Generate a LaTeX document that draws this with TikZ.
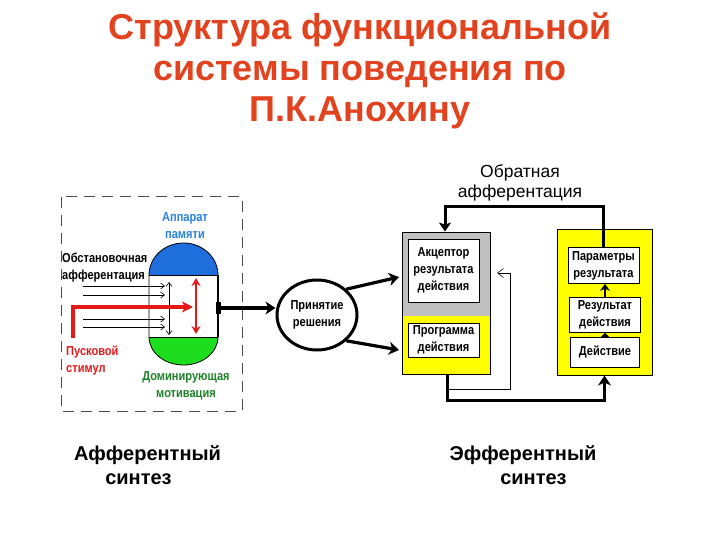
\documentclass[tikz,border=0pt]{standalone}
\usepackage{fontspec}
\setmainfont{Liberation Sans}
\newfontfamily\nar{Liberation Sans}[FakeStretch=0.85]
\usetikzlibrary{arrows.meta,shapes.geometric,calc}
\definecolor{titlered}{RGB}{226,66,30}
\definecolor{capblue}{RGB}{30,110,220}
\definecolor{labblue}{RGB}{40,130,220}
\definecolor{capgreen}{RGB}{30,220,30}
\definecolor{labgreen}{RGB}{30,130,40}
\definecolor{stimred}{RGB}{230,25,25}
\definecolor{blockgray}{RGB}{192,192,192}
\definecolor{blockyellow}{RGB}{255,255,0}
\begin{document}
\begin{tikzpicture}[x=1pt,y=-1pt,
  title/.style={anchor=base,text=titlered,font=\bfseries\fontsize{36}{40}\selectfont,inner sep=0pt},
  lab/.style={font=\nar\bfseries\fontsize{13}{17}\selectfont,align=center,inner sep=0pt},
  box/.style={draw,fill=white,line width=0.8pt,lab,minimum width=71pt},
  tarr/.style={line width=3.2pt,-{Stealth[length=10pt,width=13pt,inset=3pt]}},
  sarr/.style={line width=0.6pt,-{Straight Barb[length=4pt,width=6pt]}},
  big/.style={font=\bfseries\fontsize{20}{24}\selectfont,inner sep=0pt},
]
\useasboundingbox (0,0) rectangle (720,540);

% title
\node[title] (t1) at (360,40) {Структура функциональной};
\node[title] (t2) at (360,81) {системы поведения по};
\node[title] (t3) at (360,122) {П.К.Анохину};

% afferent synthesis frame
\draw[gray!60!black,line width=1pt,dash pattern=on 11pt off 7pt] (61,197) rectangle (242,411);

% capsule
\fill[capblue] (149,275) arc[start angle=180,end angle=0,x radius=34.5pt,y radius=32pt] -- cycle;
\fill[capgreen] (149,337) arc[start angle=180,end angle=360,x radius=34.5pt,y radius=28pt] -- cycle;
\draw[line width=0.8pt] (149,275) arc[start angle=180,end angle=0,x radius=34.5pt,y radius=32pt]
  -- (218,337) arc[start angle=0,end angle=-180,x radius=34.5pt,y radius=28pt] -- cycle;
\draw[line width=0.8pt] (149,275) -- (218,275) (149,337) -- (218,337);
\draw[line width=1.5pt] (218,275) -- (218,337);

\node[lab,text=labblue] (mem) at (185,226) {Аппарат\\памяти};
\node[lab,anchor=west,align=left] (env) at (62,268) {Обстановочная\\афферентация};
\node[lab,text=stimred,anchor=west,align=left] (stim) at (66,361) {Пусковой\\стимул};
\node[lab,text=labgreen] (mot) at (186,386) {Доминирующая\\мотивация};

\foreach \y in {286,295,319,327} \draw[sarr] (83,\y) -- (165,\y);
\draw[line width=0.6pt,{Straight Barb[length=4pt,width=6pt]}-{Straight Barb[length=4pt,width=6pt]}] (169,282) -- (169,335);
\draw[stimred,line width=3.5pt,-{Stealth[length=11pt,width=11pt,inset=3pt]}] (73,338) -- (73,307) -- (193,307);
\draw[stimred,line width=2.5pt,{Stealth[length=8pt,width=9pt]}-{Stealth[length=8pt,width=9pt]}] (196,278) -- (196,334);

\coordinate (cap) at (218,308);
\fill (215.5,302) rectangle (220.5,314);

% decision
\node[ellipse,draw,line width=3pt,minimum width=80pt,minimum height=70pt,lab] (dec) at (317,315) {Принятие\\решения};
\draw[tarr] (cap) -- (cap -| dec.west);

% left block
\fill[blockgray] (402,232) rectangle (490,316);
\fill[blockyellow] (402,316) rectangle (490,374);
\node[draw,line width=0.8pt,minimum width=88pt,minimum height=142pt,inner sep=0pt] (L) at (446,303) {};
\node[box,minimum height=63pt] (acc) at (443.5,270.5) {Акцептор\\результата\\действия};
\node[box,minimum height=34pt] (prog) at (443.5,340) {Программа\\действия};

% right block
\node[draw,fill=blockyellow,line width=1pt,minimum width=95pt,minimum height=145pt,inner sep=0pt] (R) at (604.5,302.5) {};
\node[box,minimum height=36pt] (par) at (603.5,265.5) {Параметры\\результата};
\node[box,minimum height=35pt] (res) at (605,315) {Результат\\действия};
\node[box,minimum height=30pt,minimum width=69pt] (act) at (605,352) {Действие};

\draw[line width=2.5pt,-{Stealth[length=7pt,width=10pt]}] (res.north |- par.south) ++(0,13) -- (res.north |- par.south);
\draw[line width=2.5pt,-{Stealth[length=5pt,width=10pt]}] (act.north) -- (act.north |- res.south);

% decision arrows
\coordinate (a1) at (399,277);
\coordinate (a2) at (399,350);
\draw[tarr] (dec.north east) -- (a1);
\draw[tarr] (dec.south east) -- (a2);

% feedback
\coordinate (fb) at (445,207);
\draw[line width=3pt,-{Stealth[length=9pt,width=12pt,inset=2pt]}] (par.north) |- (fb) -- (fb |- L.north);
\coordinate (bt) at (447,400);
\draw[line width=3pt,-{Stealth[length=10pt,width=13pt,inset=3pt]}] (bt |- L.south) -- (bt) -| (R.south);
\coordinate (th) at (447,389);
\coordinate (tt) at (497,273);
\draw[line width=0.6pt,-{Straight Barb[length=6pt,width=9pt]}] (th) -| (510,273) -- (tt);

\node[font=\fontsize{17.5}{20}\selectfont,align=center,inner sep=0pt] (fbl) at (520,183) {Обратная\\афферентация};

\node[big] (as1) at (147.5,455) {Афферентный};
\node[big] (as2) at (138.5,479) {синтез};
\node[big] (es1) at (523,455) {Эфферентный};
\node[big] (es2) at (533.5,479) {синтез};
\end{tikzpicture}
\end{document}
